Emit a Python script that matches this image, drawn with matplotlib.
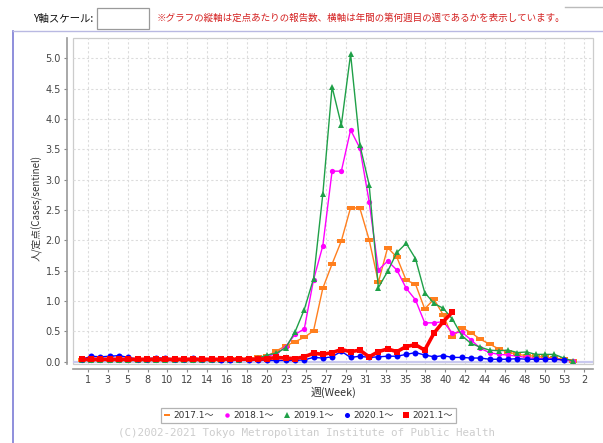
import numpy as np
import matplotlib
matplotlib.use('Agg')
import matplotlib.pyplot as plt
from matplotlib.lines import Line2D
from matplotlib.patches import Rectangle
from matplotlib.path import Path

plt.rcParams['font.family'] = ['DejaVu Sans', 'Noto Sans CJK JP']

# ---------------- data ----------------
tick_labels = ['1', '3', '5', '8', '10', '12', '14', '16', '18', '20', '23', '25', '27',
               '29', '31', '33', '35', '38', '40', '42', '44', '46', '48', '50', '53', '2']
y_ticks = [0.0, 0.5, 1.0, 1.5, 2.0, 2.5, 3.0, 3.5, 4.0, 4.5, 5.0]

series_names = ['2017.1～', '2018.1～', '2019.1～', '2020.1～', '2021.1～']

v2017 = [0.03, 0.03, 0.03, 0.03, 0.03, 0.03, 0.03, 0.03, 0.03, 0.03,
         0.03, 0.03, 0.03, 0.03, 0.03, 0.03, 0.04, 0.04, 0.05, 0.07,
         0.09, 0.18, 0.26, 0.33, 0.40, 0.51, 1.21, 1.61, 1.99, 2.54,
         2.53, 2.01, 1.31, 1.88, 1.72, 1.34, 1.28, 0.87, 1.03, 0.77,
         0.41, 0.56, 0.48, 0.37, 0.29, 0.21, 0.16, 0.12, 0.10, 0.09,
         0.07, 0.06, 0.04, 0.01]
v2018 = [0.02, 0.02, 0.02, 0.02, 0.02, 0.02, 0.02, 0.02, 0.02, 0.02,
         0.02, 0.02, 0.02, 0.02, 0.02, 0.03, 0.03, 0.03, 0.04, 0.06,
         0.09, 0.13, 0.25, 0.45, 0.54, 1.35, 1.91, 3.14, 3.14, 3.82,
         3.52, 2.64, 1.51, 1.66, 1.51, 1.21, 1.02, 0.64, 0.64, 0.66,
         0.47, 0.49, 0.36, 0.22, 0.15, 0.12, 0.11, 0.09, 0.07, 0.05,
         0.05, 0.04, 0.03, 0.01]
v2019 = [0.02, 0.02, 0.02, 0.02, 0.02, 0.02, 0.02, 0.02, 0.02, 0.02,
         0.02, 0.02, 0.02, 0.02, 0.02, 0.03, 0.03, 0.03, 0.04, 0.06,
         0.11, 0.14, 0.23, 0.49, 0.86, 1.37, 2.76, 4.53, 3.90, 5.07,
         3.57, 2.92, 1.22, 1.49, 1.80, 1.95, 1.70, 1.14, 0.96, 0.88,
         0.70, 0.43, 0.30, 0.24, 0.19, 0.18, 0.19, 0.15, 0.16, 0.12,
         0.12, 0.12, 0.06, 0.01]
v2020 = [0.04, 0.09, 0.08, 0.09, 0.10, 0.07, 0.04, 0.05, 0.06, 0.06,
         0.04, 0.04, 0.06, 0.04, 0.05, 0.03, 0.03, 0.05, 0.03, 0.03,
         0.02, 0.02, 0.02, 0.02, 0.03, 0.07, 0.06, 0.08, 0.17, 0.07,
         0.09, 0.07, 0.08, 0.09, 0.09, 0.12, 0.15, 0.11, 0.08, 0.10,
         0.07, 0.07, 0.06, 0.06, 0.04, 0.04, 0.04, 0.05, 0.04, 0.04,
         0.04, 0.04, 0.03]
v2021 = [0.04, 0.04, 0.04, 0.04, 0.04, 0.04, 0.04, 0.04, 0.04, 0.04,
         0.04, 0.04, 0.04, 0.04, 0.04, 0.04, 0.04, 0.04, 0.04, 0.04,
         0.05, 0.07, 0.06, 0.05, 0.08, 0.14, 0.12, 0.15, 0.20, 0.165,
         0.19, 0.08, 0.165, 0.21, 0.165, 0.25, 0.28, 0.19, 0.47, 0.66,
         0.82]

colors = ['#ff7f1e', '#ff00ff', '#1fa048', '#0000ff', '#ff0000']

# ---------------- figure ----------------
W, H = 603, 443
fig = plt.figure(figsize=(W / 100, H / 100), dpi=100)
fig.patch.set_facecolor('white')

L, R, T, B = 72.7, 593.3, 38.3, 363.5
ax = fig.add_axes([L / W, 1 - B / H, (R - L) / W, (B - T) / H])
ax.set_xlim(0.0, 56.2)
ax.set_ylim(-0.03, 5.33)

# grid
tick_pos = 1.65 + np.arange(len(tick_labels)) * 15.0 / 7.0
ax.set_xticks(tick_pos)
ax.set_xticklabels(tick_labels)
ax.set_yticks(y_ticks)
ax.set_yticklabels([f'{v:.1f}' for v in y_ticks])
ax.grid(True, color='#dcdcdc', linestyle=(0, (2, 2)), linewidth=0.8)
ax.set_axisbelow(True)

ax.tick_params(axis='both', colors='#888888', labelcolor='#444444', labelsize=7,
               length=2.5, width=0.8, pad=2)

for s in ['top', 'right']:
    ax.spines[s].set_visible(False)
for s in ['left', 'bottom']:
    ax.spines[s].set_position(('outward', 4))
    ax.spines[s].set_color('#999999')
    ax.spines[s].set_linewidth(1.2)
ax.add_patch(Rectangle((0, 0), 1, 1, transform=ax.transAxes, fill=False,
                       edgecolor='#cccccc', linewidth=0.9, clip_on=False, zorder=0.5))

# zero baseline
ax.axhline(0, color='#c9c9ef', linewidth=1.6, zorder=1)

hrect = Path([(-1, -0.45), (1, -0.45), (1, 0.45), (-1, 0.45), (-1, -0.45)],
             [Path.MOVETO, Path.LINETO, Path.LINETO, Path.LINETO, Path.CLOSEPOLY])

all_vals = [v2017, v2018, v2019, v2020, v2021]
markers = [hrect, 'o', '^', 'o', 's']
msizes = [5.5, 3.8, 4.5, 4.3, 4.6]
lws = [1.0, 1.0, 1.0, 1.0, 2.6]
handles = []
for i, vals in enumerate(all_vals):
    wk = np.arange(1, len(vals) + 1)
    ax.plot(wk, vals, color=colors[i], marker=markers[i], markersize=msizes[i],
            linewidth=lws[i], markeredgewidth=0, zorder=3 + i, clip_on=False)
    handles.append(Line2D([], [], color=colors[i], marker=markers[i],
                          markersize=msizes[i] * 0.85, linestyle='none', markeredgewidth=0))

# axis labels
fig.text(334 / W, 1 - 392 / H, '週(Week)', ha='center', va='center', fontsize=7.8,
         color='#333333', family=['Noto Sans CJK JP', 'DejaVu Sans'])
fig.text(37 / W, 1 - 208 / H, '人/定点(Cases/sentinel)', ha='center', va='center',
         rotation=90, fontsize=7, color='#333333', family=['Noto Sans CJK JP', 'DejaVu Sans'])

# legend
leg = fig.legend(handles, series_names, loc='center', bbox_to_anchor=(308.5 / W, 1 - 415.7 / H),
                 ncol=5, frameon=True, fancybox=False, edgecolor='#a0a0a0',
                 handlelength=0.7, handletextpad=0.35, columnspacing=1.1,
                 borderpad=0.3, prop={'family': ['DejaVu Sans', 'Noto Sans CJK JP'], 'size': 6.5})
leg.get_frame().set_linewidth(0.9)
for t in leg.get_texts():
    t.set_color('#333333')

# copyright
fig.text(306.5 / W, 1 - 433 / H, '(C)2002-2021 Tokyo Metropolitan Institute of Public Health',
         ha='center', va='center', fontsize=7.8, color='#cdcdcd', family='DejaVu Sans Mono')

# header
fig.text(33 / W, 1 - 18.5 / H, 'Y軸スケール:', ha='left', va='center', fontsize=7.5,
         color='#111111', family=['Noto Sans CJK JP', 'DejaVu Sans'])
fig.add_artist(Rectangle((97 / W, 1 - 29 / H), 52 / W, 21 / H, transform=fig.transFigure,
                         facecolor='white', edgecolor='#9a9a9a', linewidth=0.9))
fig.text(157 / W, 1 - 18.5 / H,
         '※グラフの縦軸は定点あたりの報告数、横軸は年間の第何週目の週であるかを表示しています。',
         ha='left', va='center', fontsize=6.85, color='#d42020',
         family=['Noto Sans CJK JP', 'DejaVu Sans'])

# panel frame lines
fig.add_artist(Line2D([12.5 / W, 12.5 / W], [0, 1 - 31 / H], transform=fig.transFigure,
                      color='#7b7bd6', linewidth=1.2))
fig.add_artist(Line2D([12.5 / W, 1], [1 - 31 / H, 1 - 31 / H], transform=fig.transFigure,
                      color='#b9b9e2', linewidth=1.0))
fig.add_artist(Line2D([565 / W, 1], [1 - 7 / H, 1 - 7 / H], transform=fig.transFigure,
                      color='#bbbbbb', linewidth=1.0))

fig.savefig('out.png', dpi=100)
